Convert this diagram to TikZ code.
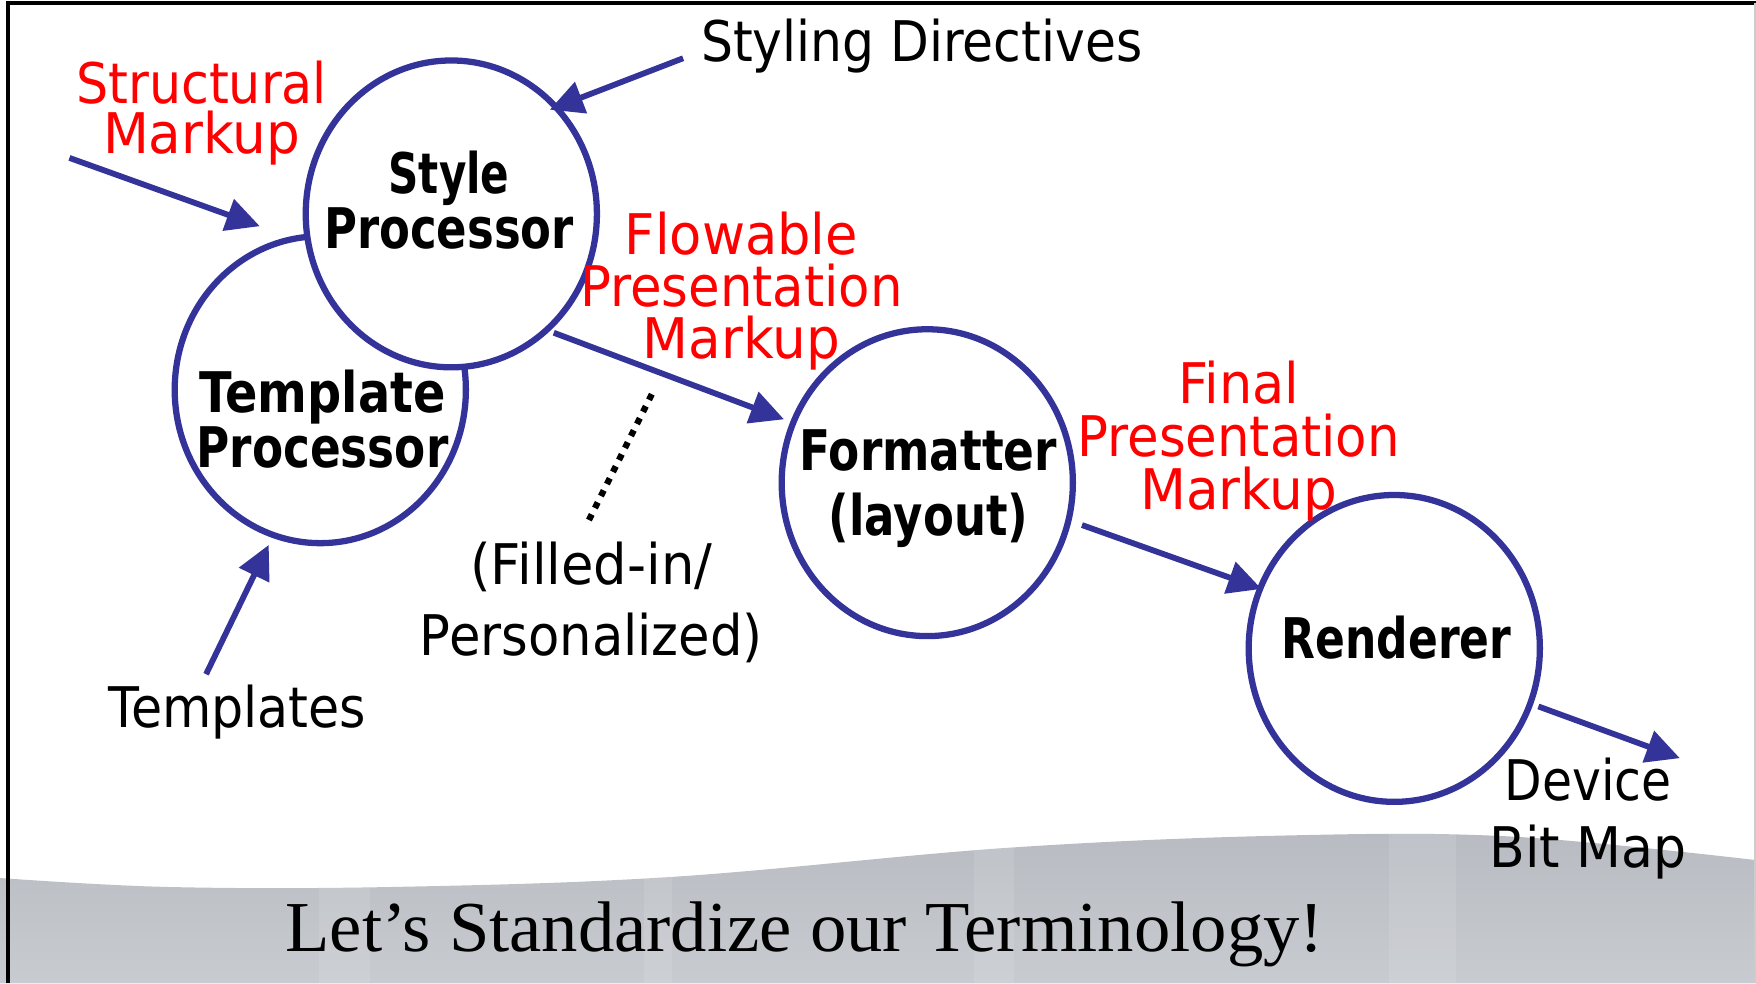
\documentclass[tikz,border=0pt]{standalone}
\usepackage{fontspec}
\usepackage{graphicx}
\setmainfont{DejaVu Sans}
\newfontfamily\titlefont{Liberation Serif}
\usetikzlibrary{arrows.meta,shapes.geometric}
\definecolor{navy}{RGB}{51,51,153}
\definecolor{bandtop}{RGB}{184,188,194}
\definecolor{bandbot}{RGB}{200,203,208}
\newcommand{\fitw}[2]{\resizebox{#1}{\height}{#2}}
\begin{document}
\begin{tikzpicture}[x=0.5pt,y=-0.5pt,
  proc/.style={ellipse, draw=navy, line width=2.8pt, fill=white,
    minimum width=130pt, minimum height=137pt, inner sep=0pt},
  arr/.style={draw=navy, line width=2.6pt, -{Triangle[length=15pt,width=14.5pt]}},
  txt/.style={font={\fontsize{25}{#1}\selectfont\lineskiplimit=-100pt},
    align=center, anchor=base, inner sep=0pt},
  txt/.default=24pt,
  btxt/.style={font={\fontsize{25}{#1}\selectfont\bfseries\lineskiplimit=-100pt},
    align=center, anchor=base, inner sep=0pt},
  btxt/.default=24.5pt,
  rtxt/.style={txt=#1, text=red},
  rtxt/.default=23.5pt,
  dotline/.style={line width=2.8pt, dash pattern=on 2.8pt off 3.2pt}
]
\useasboundingbox (0,0) rectangle (1568,878);
% background band
\path[top color=bandtop, bottom color=bandbot]
  plot[smooth, tension=0.6] coordinates {(0,784) (150,792) (350,792) (600,783) (900,757) (1150,746) (1350,747) (1568,768)}
  -- (1568,878) -- (0,878) -- cycle;
\begin{scope}
  \clip plot[smooth, tension=0.6] coordinates {(0,784) (150,792) (350,792) (600,783) (900,757) (1150,746) (1350,747) (1568,768)}
  -- (1568,878) -- (0,878) -- cycle;
  \fill[white, opacity=0.1] (285,740) rectangle (330,878);
  \fill[white, opacity=0.1] (575,740) rectangle (600,878);
  \fill[white, opacity=0.1] (870,740) rectangle (905,878);
  \fill[white, opacity=0.1] (1240,740) rectangle (1300,878);
\end{scope}
% frame
\draw[line width=1.8pt] (7,878) -- (7,3) -- (1568,3);
\draw[black!20, line width=0.6pt] (1567,3) -- (1567,878);
% processors
\node[proc] (tp) at (286,348) {};
\node[proc] (style) at (403,191) {};
\node[proc] (fmt) at (828,431) {};
\node[proc] (rend) at (1245,579) {};
% free ends
\coordinate (smA) at (62,141);
\coordinate (smB) at (232,202);
\coordinate (sdA) at (610,52);
\coordinate (tmA) at (184,602);
\coordinate (dvB) at (1500,677);
\coordinate (dA) at (582,352);
\coordinate (dB) at (523,470);
% connectors
\draw[arr] (smA) -- (smB);
\draw[arr, shorten >=-4.5pt] (sdA) -- (style.45);
\draw[arr, shorten >=3.5pt] (tmA) -- (tp.252);
\draw[arr, shorten <=1.9pt, shorten >=3pt] (style.-50) -- (fmt.156);
\draw[arr, shorten <=5pt, shorten >=-2pt] (fmt.-15) -- (rend.156);
\draw[arr, shorten <=2.5pt] (rend.-22) -- (dvB);
\draw[dotline] (dA) -- (dB);
% texts (multi-line nodes: base = last line)
\node[txt] (sdlbl) at (823,55) {\fitw{197pt}{Styling Directives}};
\node[rtxt=22.5pt] (smlbl) at (180,137) {\fitw{112pt}{Structural}\\\fitw{88pt}{Markup}};
\node[btxt] (stxt) at (401,222) {\fitw{54pt}{Style}\\\fitw{111.5pt}{Processor}};
\node[btxt] (ttxt) at (288,417) {\fitw{110pt}{Template}\\\fitw{112.5pt}{Processor}};
\node[rtxt=23.25pt] (flow) at (662,320) {\fitw{104pt}{Flowable}\\\fitw{144pt}{Presentation}\\\fitw{88pt}{Markup}};
\node[btxt=29pt] (ftxt) at (829,478) {\fitw{115pt}{Formatter}\\\fitw{89pt}{(layout)}};
\node[rtxt=23.75pt] (final) at (1106,455) {\fitw{54pt}{Final}\\\fitw{144pt}{Presentation}\\\fitw{88pt}{Markup}};
\node[btxt] (rtxtn) at (1247,588) {\fitw{102.5pt}{Renderer}};
\node[txt=31.5pt] (filled) at (528,585) {\fitw{108pt}{(Filled-in/}\\\fitw{153pt}{Personalized)}};
\node[txt] (tmlbl) at (212,650) {\fitw{115pt}{Templates}};
\node[txt=30pt] (dev) at (1418,775) {\fitw{74.5pt}{Device}\\\fitw{88pt}{Bit Map}};
\node[anchor=base, inner sep=0pt, font={\titlefont\fontsize{32}{36}\selectfont}] (title) at (718.5,850)
  {\fitw{463.5pt}{Let’s Standardize our Terminology!}};
\end{tikzpicture}
\end{document}
